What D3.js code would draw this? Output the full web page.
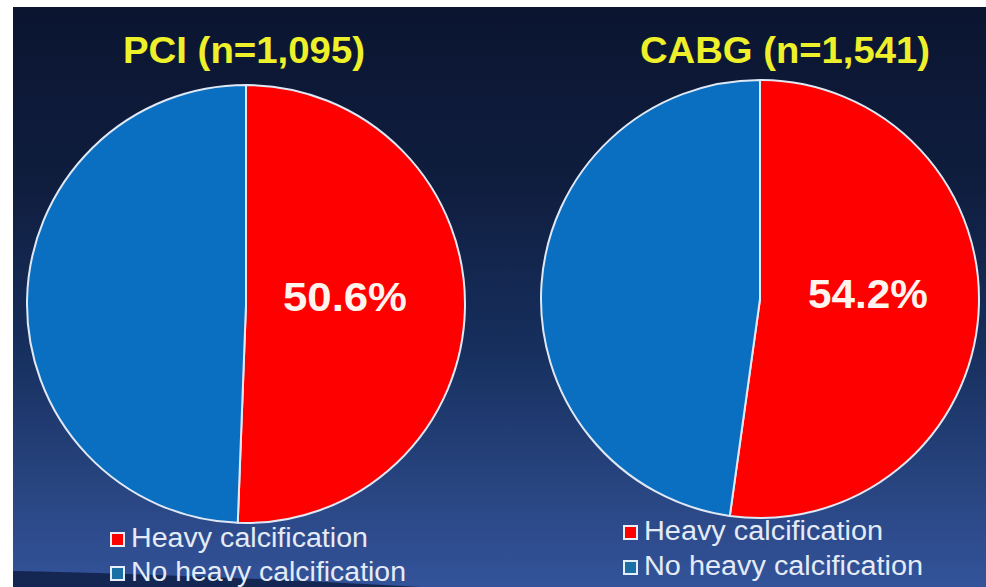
<!DOCTYPE html>
<html>
<head>
<meta charset="utf-8">
<script src="https://cdn.jsdelivr.net/npm/d3@7"></script>
<style>
  html, body { margin: 0; padding: 0; background: #ffffff; }
  svg { display: block; }
</style>
</head>
<body>
<svg id="chart" width="986" height="587"></svg>
<script>
// ---- data ----
const groups = ["PCI (n=1,095)", "CABG (n=1,541)"];
const categories = ["Heavy calcification", "No heavy calcification"];
const heavyShare = [50.6, 52.2];      // share of the pie drawn red
const noHeavyShare = [49.4, 47.8];    // share of the pie drawn blue
const heavyLabels = ["50.6%", "54.2%"];

// ---- layout ----
const W = 986, H = 587;
const colors = d3.scaleOrdinal().domain(categories).range(["#ff0000", "#0a6fc0"]);
const swatchColors = d3.scaleOrdinal().domain(categories).range(["#ff0000", "#1a6fa5"]);
const panels = [
  { cx: 246, cy: 304, r: 219, titleX: 244, titleY: 63, titleW: 242,
    labelX: 345, labelY: 311, labelW: 124,
    legX: 110, legBase: [547, 581], legTextX: 131, legW: [237, 275] },
  { cx: 760, cy: 299, r: 219, titleX: 785, titleY: 63, titleW: 290,
    labelX: 868, labelY: 308, labelW: 120,
    legX: 623, legBase: [540, 575], legTextX: 644, legW: [239, 279] }
];

const svg = d3.select("#chart");
const defs = svg.append("defs");
const bg = defs.append("linearGradient").attr("id", "bg")
  .attr("x1", 0).attr("y1", 0).attr("x2", 0).attr("y2", 1);
bg.append("stop").attr("offset", "0%").attr("stop-color", "#0b1530");
bg.append("stop").attr("offset", "30%").attr("stop-color", "#0f1d3e");
bg.append("stop").attr("offset", "60%").attr("stop-color", "#17305f");
bg.append("stop").attr("offset", "85%").attr("stop-color", "#2a4784");
bg.append("stop").attr("offset", "100%").attr("stop-color", "#33539a");

svg.append("rect").attr("x", 13).attr("y", 7).attr("width", W - 13).attr("height", H - 7)
  .attr("fill", "url(#bg)");
// dark swoosh at bottom-left
svg.append("path")
  .attr("d", "M13,587 L13,571 Q180,574 420,587 Z")
  .attr("fill", "#0f1f45").attr("opacity", 0.85);

const pie = d3.pie().sort(null).value(d => d.value);
const arc = d3.arc().innerRadius(0);

panels.forEach((p, i) => {
  const g = svg.append("g");
  const data = [
    { cat: categories[0], value: heavyShare[i] },
    { cat: categories[1], value: noHeavyShare[i] }
  ];
  const pg = g.append("g").attr("transform", `translate(${p.cx},${p.cy})`);
  pg.selectAll("path").data(pie(data)).join("path")
    .attr("d", arc.outerRadius(p.r))
    .attr("fill", d => colors(d.data.cat))
    .attr("stroke", "#dfe8f5").attr("stroke-width", 2).attr("stroke-linejoin", "round");

  // title
  g.append("text")
    .attr("x", p.titleX).attr("y", p.titleY)
    .attr("text-anchor", "middle")
    .attr("font-family", "Liberation Sans, Arial, sans-serif")
    .attr("font-weight", "bold").attr("font-size", 37)
    .attr("fill", "#eef02a")
    .attr("textLength", p.titleW).attr("lengthAdjust", "spacingAndGlyphs")
    .text(groups[i]);

  // percentage label
  g.append("text")
    .attr("x", p.labelX).attr("y", p.labelY)
    .attr("text-anchor", "middle")
    .attr("font-family", "Liberation Sans, Arial, sans-serif")
    .attr("font-weight", "bold").attr("font-size", 40)
    .attr("fill", "#fff4ee")
    .attr("textLength", p.labelW).attr("lengthAdjust", "spacingAndGlyphs")
    .text(heavyLabels[i]);

  // legend
  categories.forEach((c, k) => {
    const base = p.legBase[k];
    g.append("rect")
      .attr("x", p.legX + 1).attr("y", base - 14).attr("width", 13).attr("height", 13)
      .attr("fill", swatchColors(c)).attr("stroke", "#e6eef8").attr("stroke-width", 2);
    g.append("text")
      .attr("x", p.legTextX).attr("y", base)
      .attr("font-family", "Liberation Sans, Arial, sans-serif")
      .attr("font-size", 27)
      .attr("fill", "#e4ebf6")
      .attr("textLength", p.legW[k]).attr("lengthAdjust", "spacingAndGlyphs")
      .text(c);
  });
});
</script>
</body>
</html>
